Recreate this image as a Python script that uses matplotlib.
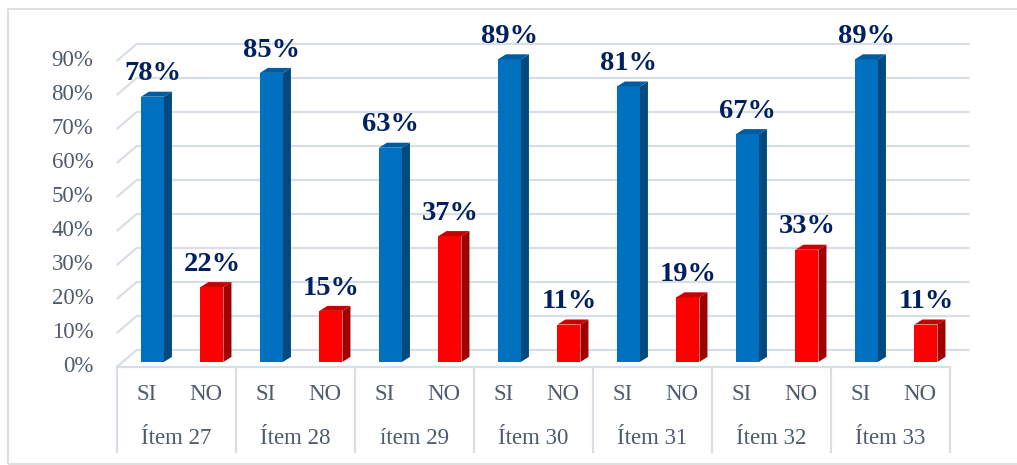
import matplotlib.pyplot as plt
from matplotlib.patches import Polygon, Rectangle

# Respuestas SI / NO por ítem (%)
items = ['Ítem 27', 'Ítem 28', 'ítem 29', 'Ítem 30', 'Ítem 31', 'Ítem 32', 'Ítem 33']
answers = ['SI', 'NO']
si = [78, 85, 63, 89, 81, 67, 89]
no = [22, 15, 37, 11, 19, 33, 11]
y_ticks = [0, 10, 20, 30, 40, 50, 60, 70, 80, 90]

plt.rcParams['font.family'] = ['Liberation Serif', 'DejaVu Serif']

# escala: 1 unidad en x = una columna, 1 unidad en y = 1 %
W, H = 1017, 465
slot_px, pct_px = 59.5, 3.4
left_px, floor_px = 116.7, 367

fig = plt.figure(figsize=(W / 100, H / 100), dpi=100)
ax = fig.add_axes([0, 0, 1, 1])
ax.set_xlim(-left_px / slot_px, (W - left_px) / slot_px)
ax.set_ylim((floor_px - H) / pct_px, floor_px / pct_px)
ax.axis('off')

# marco exterior del gráfico
fig.add_artist(Rectangle((8 / W, 1 / H), 1.2, (H - 10.5) / H, transform=fig.transFigure,
                         fill=False, edgecolor='#D9D9D9', lw=1.2))

n = len(items) * 2
grid_c = '#D9DDE4'
text_c = '#4E5A6E'

# profundidad de las paredes y posición de las barras dentro de ella
wall_dx, wall_dy = 20 / slot_px, 17 / pct_px
t = 0.3
bx, by = t * wall_dx, t * wall_dy
bar_dx, bar_dy = 8 / slot_px, 5 / pct_px
bw = 23 / slot_px

# líneas de cuadrícula (pared lateral + pared del fondo)
for v in y_ticks:
    ax.plot([0, wall_dx, n + wall_dx], [v, v + wall_dy, v + wall_dy],
            color=grid_c, lw=1.6, zorder=1, solid_capstyle='butt')
    ax.text(-0.39, v, f'{v}%', ha='right', va='center', fontsize=16.5, color=text_c)

# borde del piso y divisiones de categorías
ax.plot([0, n], [0, 0], color=grid_c, lw=1.6, zorder=1)
for k in range(0, n + 1, 2):
    ax.plot([k, k], [0, -25], color=grid_c, lw=1.6, zorder=1)

vals, fronts, sides, tops = [], [], [], []
for s, o in zip(si, no):
    vals += [s, o]
    fronts += ['#0070C0', '#FF0000']
    sides += ['#004A80', '#A00000']
    tops += ['#005B9F', '#C80000']

xs = [i + 0.5 + bx for i in range(n)]
bars = ax.bar(xs, vals, width=bw, bottom=by, color=fronts, zorder=3)

for rect, v, sc, tc in zip(bars, vals, sides, tops):
    x0 = rect.get_x()
    x1 = x0 + rect.get_width()
    b = rect.get_y()
    top = b + rect.get_height()
    ax.add_patch(Polygon([(x1, b), (x1 + bar_dx, b + bar_dy), (x1 + bar_dx, top + bar_dy), (x1, top)],
                         closed=True, facecolor=sc, edgecolor='none', zorder=3))
    ax.add_patch(Polygon([(x0, top), (x0 + bar_dx, top + bar_dy), (x1 + bar_dx, top + bar_dy), (x1, top)],
                         closed=True, facecolor=tc, edgecolor='none', zorder=3))
    ax.text(x0 + rect.get_width() / 2, top + 4.8, f'{v}%', ha='center', va='baseline',
            fontsize=20.5, fontweight='bold', color='#002060', zorder=4)

# etiquetas del eje de categorías
for i in range(n):
    ax.text(i + 0.5, -8.2, answers[i % 2], ha='center', va='center', fontsize=16.5, color=text_c)
for g, name in enumerate(items):
    ax.text(2 * g + 1, -20.9, name, ha='center', va='center', fontsize=16.5, color=text_c)

fig.savefig('out.png', dpi=100)
